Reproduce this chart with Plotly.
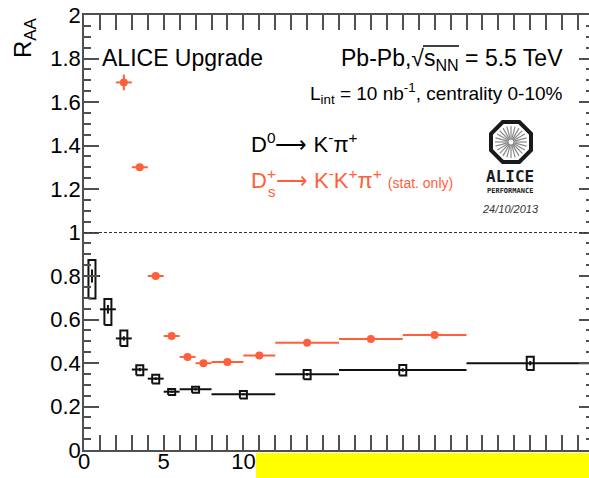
import math
import plotly.graph_objects as go

# D0 -> K- pi+ : nuclear modification factor in bins of pT (GeV/c)
d0_pt = [0.5, 1.5, 2.5, 3.5, 4.5, 5.5, 7, 10, 14, 20, 28]
d0_bin_half = [0.5, 0.5, 0.5, 0.5, 0.5, 0.5, 1, 2, 2, 4, 4]
d0_raa = [0.80, 0.647, 0.513, 0.370, 0.328, 0.268, 0.279, 0.256, 0.348, 0.368, 0.399]
d0_stat = [0.03, 0.02, 0.01, 0.008, 0.006, 0.005, 0.005, 0.005, 0.006, 0.008, 0.01]
d0_syst_hi = [0.074, 0.047, 0.036, 0.020, 0.018, 0.012, 0.012, 0.015, 0.020, 0.023, 0.030]
d0_syst_lo = [0.104, 0.072, 0.035, 0.026, 0.022, 0.015, 0.016, 0.019, 0.023, 0.026, 0.031]

# Ds+ -> K- K+ pi+ (statistical uncertainties only)
ds_pt = [2.5, 3.5, 4.5, 5.5, 6.5, 7.5, 9, 11, 14, 18, 22]
ds_bin_half = [0.5, 0.5, 0.5, 0.5, 0.5, 0.5, 1, 1, 2, 2, 2]
ds_raa = [1.69, 1.30, 0.80, 0.524, 0.428, 0.399, 0.405, 0.435, 0.493, 0.510, 0.529]
ds_stat = [0.036, 0.012, 0.008, 0.006, 0.005, 0.005, 0.005, 0.005, 0.006, 0.006, 0.007]

x_ticks = [0, 5, 10, 15, 20, 25, 30]
y_ticks = [0, 0.2, 0.4, 0.6, 0.8, 1, 1.2, 1.4, 1.6, 1.8, 2]

BLACK = "#111111"
ORANGE = "#FF5F3A"
FRAME = "#505050"
FONT = "Liberation Sans, Arial, Helvetica, sans-serif"
ARROW = "⟶"

W, H = 589, 478
L, R, T, B = 84, 0, 15, 28
PW, PH = W - L - R, H - T - B
SYST_HALF_WIDTH = 0.22


def px(xp):
    """pixel column -> paper x"""
    return (xp - L) / PW


def py(yp):
    """pixel row -> paper y"""
    return (H - B - yp) / PH


fig = go.Figure()

# D0 statistical points with bin-width bars
fig.add_trace(go.Scatter(
    x=d0_pt, y=d0_raa, mode="markers",
    marker=dict(size=1, color=BLACK),
    error_x=dict(type="data", array=d0_bin_half, color=BLACK, thickness=2, width=0),
    error_y=dict(type="data", array=d0_stat, color=BLACK, thickness=2, width=0),
    showlegend=False, hoverinfo="skip",
))

# D0 systematic boxes
bx, by = [], []
for x, y, hi, lo in zip(d0_pt, d0_raa, d0_syst_hi, d0_syst_lo):
    x0, x1 = x - SYST_HALF_WIDTH, x + SYST_HALF_WIDTH
    y0, y1 = y - lo, y + hi
    bx += [x0, x1, x1, x0, x0, None]
    by += [y0, y0, y1, y1, y0, None]
fig.add_trace(go.Scatter(
    x=bx, y=by, mode="lines", line=dict(color=BLACK, width=2),
    showlegend=False, hoverinfo="skip",
))

# Ds points
fig.add_trace(go.Scatter(
    x=ds_pt, y=ds_raa, mode="markers",
    marker=dict(size=8, color=ORANGE, symbol="circle"),
    error_x=dict(type="data", array=ds_bin_half, color=ORANGE, thickness=2, width=0),
    error_y=dict(type="data", array=ds_stat, color=ORANGE, thickness=2, width=0),
    showlegend=False, hoverinfo="skip",
))

# invisible trace so the right-hand tick axis is drawn
fig.add_trace(go.Scatter(x=[], y=[], yaxis="y2", showlegend=False))

shapes = [
    # reference line at R_AA = 1
    dict(type="line", xref="paper", yref="y", x0=0, x1=1, y0=1, y1=1,
         line=dict(color="#333333", width=1, dash="3px,2px")),
    # bar of the square root over s_NN
    dict(type="line", xref="paper", yref="paper", x0=px(423), x1=px(459),
         y0=py(46), y1=py(46), line=dict(color="black", width=1.3)),
]

# ALICE logo: octagon with radial spokes
cx, cy = 511, 142
apo = 20.0
rv = apo / math.cos(math.pi / 8)
pts = []
for k in range(8):
    a = math.pi / 8 + k * math.pi / 4
    pts.append((px(cx + rv * math.cos(a)), py(cy - rv * math.sin(a))))
path = "M " + " L ".join(f"{a:.5f},{b:.5f}" for a, b in pts) + " Z"
shapes.append(dict(type="path", xref="paper", yref="paper", path=path,
                   fillcolor="white", line=dict(color="#1a1a1a", width=4)))
for k in range(24):
    a = k * 2 * math.pi / 24
    shapes.append(dict(
        type="line", xref="paper", yref="paper",
        x0=px(cx + 2.5 * math.cos(a)), y0=py(cy - 2.5 * math.sin(a)),
        x1=px(cx + 16 * math.cos(a)), y1=py(cy - 16 * math.sin(a)),
        line=dict(color="#8a8a8a", width=1.2)))

# yellow band across the lower edge
shapes.append(dict(type="rect", xref="paper", yref="paper",
                   x0=px(256), x1=px(W + 5), y0=py(H + 5), y1=py(453),
                   fillcolor="#FFFF00", line=dict(width=0), layer="above"))

annotations = [
    dict(x=px(25), y=py(38), text="R<sub>AA</sub>", textangle=-90,
         font=dict(size=24, color="black", family=FONT)),
    dict(x=px(100), y=py(58), text="ALICE Upgrade", xanchor="left",
         font=dict(size=23, color="black", family=FONT)),
    dict(x=px(565), y=py(60), text="Pb-Pb,√s<sub>NN</sub> = 5.5 TeV", xanchor="right",
         font=dict(size=23, color="black", family=FONT)),
    dict(x=px(565), y=py(94), text="L<sub>int</sub> = 10 nb<sup>-1</sup>, centrality 0-10%",
         xanchor="right", font=dict(size=19, color="black", family=FONT)),
    dict(x=px(249), y=py(143),
         text=f"D<sup>0</sup>{ARROW} K<sup>-</sup>π<sup>+</sup>", xanchor="left",
         font=dict(size=22, color="black", family=FONT)),
    dict(x=px(249), y=py(179),
         text=f"D<sup>+</sup>{ARROW} K<sup>-</sup>K<sup>+</sup>π<sup>+</sup> "
              "<span style='font-size:14px'>(stat. only)</span>",
         xanchor="left", font=dict(size=22, color=ORANGE, family=FONT)),
    dict(x=px(266), y=py(191), text="s", xanchor="left",
         font=dict(size=15, color=ORANGE, family=FONT)),
    dict(x=px(510), y=py(176), text="<b>ALICE</b>",
         font=dict(size=16, color="#1a1a1a", family="DejaVu Sans Mono")),
    dict(x=px(510), y=py(191), text="<b>PERFORMANCE</b>",
         font=dict(size=7, color="#1a1a1a", family="DejaVu Sans Mono")),
    dict(x=px(510), y=py(209), text="<i>24/10/2013</i>",
         font=dict(size=11, color="#333333", family=FONT)),
]
for a in annotations:
    a.update(xref="paper", yref="paper", showarrow=False)
    a.setdefault("xanchor", "center")
    a.setdefault("yanchor", "middle")

fig.update_layout(
    width=W, height=H,
    margin=dict(l=L, r=R, t=T, b=B, pad=0, autoexpand=False),
    paper_bgcolor="white", plot_bgcolor="white",
    font=dict(family=FONT, size=22, color="black"),
    shapes=shapes, annotations=annotations,
    xaxis=dict(
        range=[0, 32 * PW / (PW + 5)], tickvals=x_ticks, ticktext=[str(v) for v in x_ticks],
        ticks="inside", ticklen=15, tickwidth=1.5, tickcolor=FRAME,
        minor=dict(dtick=1, ticks="inside", ticklen=7, tickwidth=1.5, tickcolor=FRAME),
        showline=True, linecolor=FRAME, linewidth=1.5, mirror="allticks",
        showgrid=False, zeroline=False, tickfont=dict(size=22), automargin=False,
        ticklabelstandoff=-9,
    ),
    yaxis=dict(
        range=[0, 2], tickvals=y_ticks, ticktext=[f"{v:g}" for v in y_ticks],
        ticks="inside", ticklen=15, tickwidth=1.5, tickcolor=FRAME,
        minor=dict(dtick=0.05, ticks="inside", ticklen=7, tickwidth=1.5, tickcolor=FRAME),
        showline=True, linecolor=FRAME, linewidth=1.5, mirror=False,
        showgrid=False, zeroline=False, tickfont=dict(size=22), automargin=False,
        ticklabelstandoff=-3,
    ),
    yaxis2=dict(
        range=[0, 2], overlaying="y", side="right", anchor="x",
        tickvals=y_ticks, showticklabels=False,
        ticks="inside", ticklen=10, tickwidth=1.5, tickcolor=FRAME,
        minor=dict(dtick=0.05, ticks="inside", ticklen=3, tickwidth=1.5, tickcolor=FRAME),
        showline=False, showgrid=False, zeroline=False, automargin=False,
    ),
)

fig.write_html("out.html")
